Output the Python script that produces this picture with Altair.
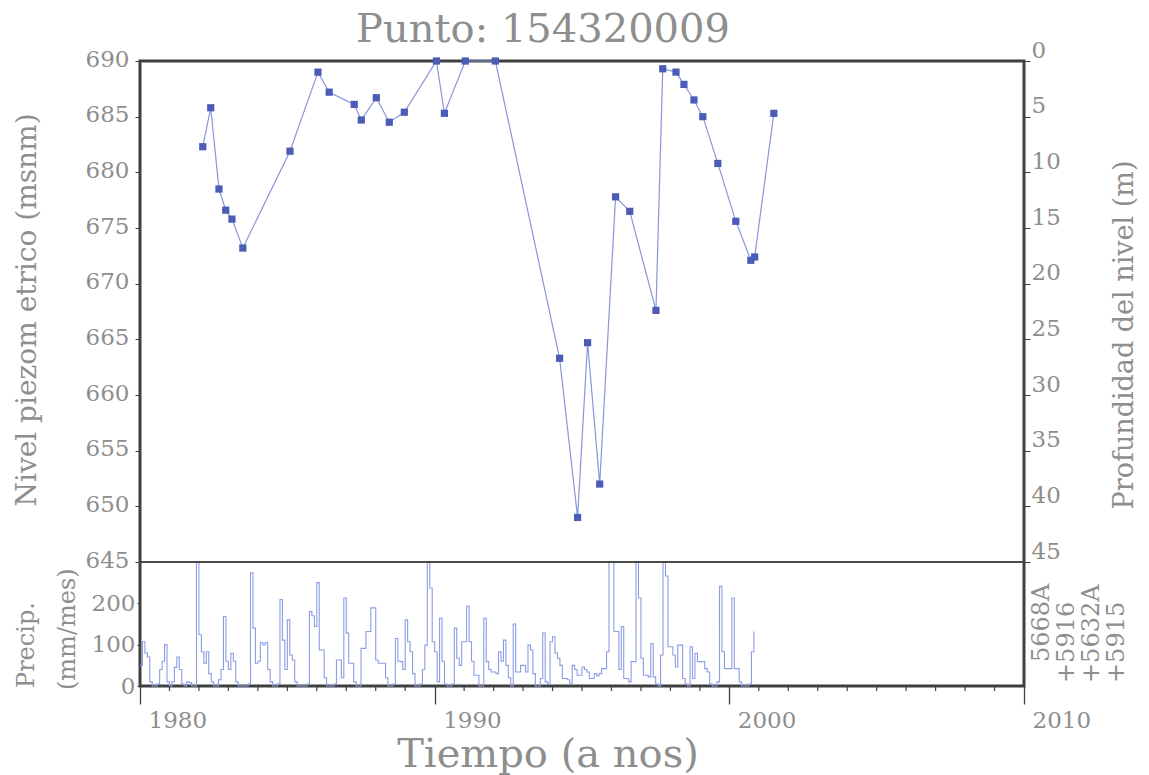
import altair as alt
import pandas as pd

# ---------------------------------------------------------------- data
title_text = "Punto: 154320009"

# groundwater level readings: decimal year and level (m above sea level)
level_year = [1982.13, 1982.40, 1982.68, 1982.91, 1983.12, 1983.49, 1985.09,
              1986.04, 1986.42, 1987.27, 1987.51, 1988.02, 1988.46, 1988.97,
              1990.06, 1990.33, 1991.04, 1992.06, 1994.24, 1994.85, 1995.19,
              1995.60, 1996.14, 1996.62, 1997.51, 1997.74, 1998.19, 1998.46,
              1998.80, 1999.10, 1999.61, 2000.22, 2000.73, 2000.86, 2001.51]
level_msnm = [682.3, 685.8, 678.5, 676.6, 675.8, 673.2, 681.9,
              689.0, 687.2, 686.1, 684.7, 686.7, 684.5, 685.4,
              690.0, 685.3, 690.0, 690.0, 663.3, 649.0, 664.7,
              652.0, 677.8, 676.5, 667.6, 689.3, 689.0, 687.9,
              686.5, 685.0, 680.8, 675.6, 672.1, 672.4, 685.3]

# monthly precipitation (mm/mes) starting January 1980
precip_first_year = 1980
precip_mm = [
    50, 107, 80, 70, 10, 0, 0, 5, 40, 60, 100, 10,        # 1980
    0, 10, 45, 70, 40, 5, 0, 10, 8, 0, 0, 330,            # 1981
    124, 83, 55, 83, 30, 10, 0, 0, 15, 40, 168, 60,       # 1982
    40, 79, 60, 10, 0, 0, 0, 0, 5, 274, 140, 55,          # 1983
    60, 105, 100, 105, 40, 10, 0, 0, 5, 209, 111, 40,     # 1984
    160, 75, 63, 10, 0, 0, 0, 0, 5, 180, 170, 144,        # 1985
    250, 87, 87, 20, 0, 0, 0, 5, 63, 63, 20, 213,         # 1986
    128, 55, 55, 10, 0, 0, 91, 91, 132, 132, 189, 189,    # 1987
    63, 55, 55, 55, 20, 0, 0, 5, 115, 60, 59, 40,         # 1988
    160, 107, 83, 30, 0, 0, 5, 40, 99, 330, 237, 107,     # 1989
    83, 10, 164, 60, 5, 0, 0, 5, 140, 67, 50, 107,        # 1990
    107, 193, 107, 60, 26, 26, 0, 0, 164, 59, 40, 34,     # 1991
    34, 30, 83, 60, 111, 50, 20, 0, 150, 34, 34, 50,      # 1992
    50, 34, 99, 87, 30, 0, 0, 18, 128, 10, 5, 107,        # 1993
    119, 80, 67, 50, 18, 18, 15, 5, 50, 40, 26, 26,       # 1994
    46, 40, 34, 18, 18, 30, 25, 30, 42, 42, 83, 330,      # 1995
    330, 132, 132, 40, 144, 18, 18, 10, 59, 59, 330, 213, # 1996
    67, 26, 26, 22, 103, 22, 5, 0, 75, 300, 266, 95,      # 1997
    95, 75, 46, 99, 99, 18, 5, 0, 95, 18, 79, 59,         # 1998
    59, 59, 42, 34, 5, 0, 0, 10, 241, 83, 42, 42,         # 1999
    42, 213, 42, 42, 10, 0, 0, 0, 5, 83, 132,             # 2000
]

stations = ["5668A", "+5916", "+5632A", "+5915"]

year_ticks = [1980, 1990, 2000, 2010]
minor_years = [y for y in range(1981, 2010) if y % 10]
level_ticks = list(range(645, 691, 5))
depth_ticks = list(range(0, 46, 5))
precip_ticks = [0, 100, 200]

# ---------------------------------------------------------------- layout
W = 884          # plot width
H_LEVEL = 501    # height of the piezometric panel
H_TOTAL = 625    # piezometric + precipitation panels
FONT = "DejaVu Serif"
GREY = "#8e8e8e"
FRAME = "#3f3f3f"

level_df = pd.DataFrame({"year": level_year, "level": level_msnm})
precip_df = pd.DataFrame({
    "t": [precip_first_year + i / 12 for i in range(len(precip_mm))],
    "mm": precip_mm,
})

x_scale = alt.Scale(domain=[1980, 2010], nice=False, zero=False)
level_scale = alt.Scale(domain=[645, 690], range=[H_LEVEL, 0], zero=False, nice=False)
depth_scale = alt.Scale(domain=[0, 45], range=[0, H_LEVEL], nice=False)
precip_scale = alt.Scale(domain=[0, 300], range=[H_TOTAL, H_LEVEL], clamp=True, nice=False)

label_style = dict(labelFont=FONT, labelFontSize=23, labelColor=GREY,
                   tickColor=FRAME, domain=False, grid=False, title=None,
                   labelOverlap=False, labelFlush=False)

# time axis: decade ticks hanging below the frame, labels to their right
time_axis = alt.Chart(pd.DataFrame({"year": year_ticks})).mark_point(opacity=0).encode(
    x=alt.X("year:Q", scale=x_scale,
            axis=alt.Axis(orient="bottom", values=year_ticks, format="d",
                          tickSize=18, tickWidth=1.3, labelAlign="left",
                          labelOffset=8, labelPadding=5, labelBaseline="top",
                          **label_style)),
    y=alt.value(H_TOTAL),
)

# precipitation step line (clamped at the panel top)
precip = alt.Chart(precip_df).mark_line(
    interpolate="step-after", color="#8b9de6", strokeWidth=1.1
).encode(
    x=alt.X("t:Q", scale=x_scale, axis=None),
    y=alt.Y("mm:Q", scale=precip_scale,
            axis=alt.Axis(orient="left", values=precip_ticks, tickSize=3,
                          labelPadding=2, labelBaseline="middle", **label_style)),
)

# yearly minor ticks below the time axis
minor = alt.Chart(pd.DataFrame({"year": minor_years})).mark_rule(
    color=FRAME, strokeWidth=1.2
).encode(
    x=alt.X("year:Q", scale=x_scale, axis=None),
    y=alt.value(H_TOTAL),
    y2=alt.value(H_TOTAL + 5),
)

# line separating the two panels
divider = alt.Chart(pd.DataFrame({"year": [1980, 2010]})).mark_rule(
    color=FRAME, strokeWidth=1.6
).encode(
    x=alt.value(0), x2=alt.value(W), y=alt.value(H_LEVEL),
)

level_y = alt.Y("level:Q", scale=level_scale,
                axis=alt.Axis(orient="left", values=level_ticks, tickSize=5,
                              labelPadding=6, labelBaseline="middle",
                              labelOffset=-2, **label_style))

level_line = alt.Chart(level_df).mark_line(color="#8796dc", strokeWidth=1.2).encode(
    x=alt.X("year:Q", scale=x_scale, axis=None),
    y=level_y,
)

level_pts = alt.Chart(level_df).mark_square(size=52, color="#4b5cb6", opacity=1).encode(
    x=alt.X("year:Q", scale=x_scale, axis=None),
    y=alt.Y("level:Q", scale=level_scale, axis=None),
)

# depth below ground, shown on the right-hand axis
depth_axis = alt.Chart(pd.DataFrame({"depth": depth_ticks})).mark_point(opacity=0).encode(
    x=alt.value(0),
    y=alt.Y("depth:Q", scale=depth_scale,
            axis=alt.Axis(orient="right", values=depth_ticks, tickSize=6,
                          labelPadding=1, labelBaseline="alphabetic",
                          labelAlign="left", labelOffset=-4, **label_style)),
)


def text_mark(text, x, y, size, angle=0, align="center", baseline="middle"):
    return alt.Chart(pd.DataFrame({"label": [text]})).mark_text(
        font=FONT, fontSize=size, color=GREY, angle=angle,
        align=align, baseline=baseline,
    ).encode(x=alt.value(x), y=alt.value(y), text="label:N")


texts = [
    text_mark(title_text, 403, -31, 40),
    text_mark("Tiempo (a nos)", 408, 694, 40),
    text_mark("Nivel piezom etrico (msnm)", -112, 249, 28, angle=270),
    text_mark("Profundidad del nivel (m)", 985, 274, 27, angle=270),
    text_mark("Precip.", -113, 627, 24, angle=270, align="left"),
    text_mark("(mm/mes)", -72, 629, 24, angle=270, align="left"),
]

# station codes, read bottom to top at the right of the precipitation panel
for i, code in enumerate(stations):
    start = 622 if code.startswith("+") else 601
    texts.append(text_mark(code, 902 + 25 * i, start, 24, angle=270, align="left"))

chart = alt.layer(
    precip, minor, divider, level_line, level_pts, depth_axis, time_axis, *texts
).resolve_scale(
    y="independent"
).resolve_axis(
    x="independent"
).properties(
    width=W,
    height=H_TOTAL,
    padding={"left": 140, "top": 61, "right": 1149 - 140 - W, "bottom": 775 - 61 - H_TOTAL},
    autosize=alt.AutoSizeParams(type="none"),
    background="white",
).configure_view(
    stroke=FRAME, strokeWidth=3
)

chart.save("out.html", embed_options={"renderer": "svg", "actions": False})
